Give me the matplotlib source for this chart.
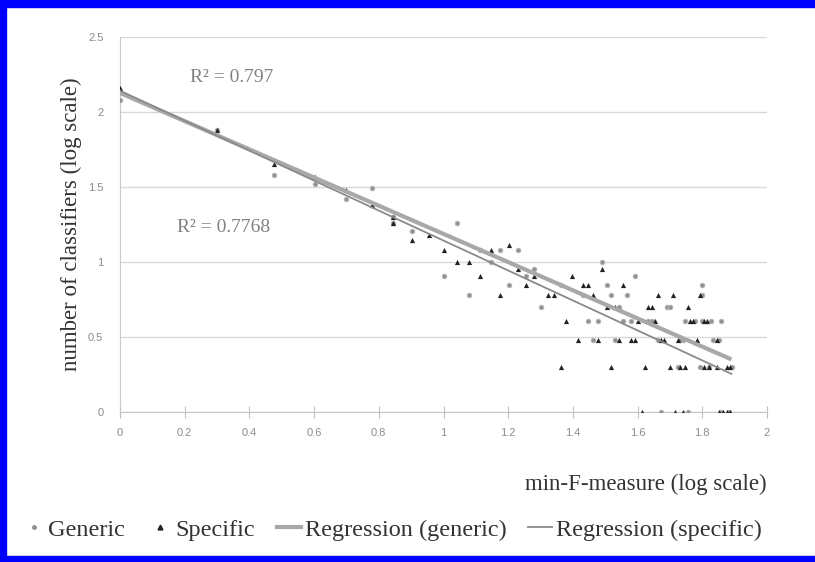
import matplotlib
matplotlib.use("Agg")
import matplotlib.pyplot as plt
import numpy as np
from matplotlib.legend_handler import HandlerLine2D
from matplotlib.lines import Line2D
from matplotlib.patches import Rectangle


# log10 values
generic_x = [0.000, 0.301, 0.477, 0.602, 0.699, 0.778, 0.845, 0.845, 0.903, 1.000,
             1.041, 1.079, 1.114, 1.146, 1.176, 1.204, 1.230, 1.255, 1.279, 1.301,
             1.362, 1.431, 1.447, 1.477, 1.462, 1.491, 1.505, 1.519, 1.544, 1.531,
             1.568, 1.591, 1.556, 1.580, 1.633, 1.643, 1.672, 1.690, 1.699, 1.663,
             1.740, 1.724, 1.756, 1.748, 1.778, 1.799, 1.799, 1.792, 1.799, 1.826,
             1.833, 1.851, 1.857, 1.892, 1.857, 1.881, 1.732, 1.820]
generic_y = [2.079, 1.875, 1.580, 1.519, 1.415, 1.491, 1.301, 1.255, 1.204, 0.903,
             1.255, 0.778, 1.079, 1.000, 1.079, 0.845, 1.079, 0.903, 0.954, 0.699,
             0.845, 0.778, 0.602, 0.602, 0.477, 1.000, 0.845, 0.778, 0.699, 0.477,
             0.778, 0.903, 0.602, 0.602, 0.602, 0.602, 0.000, 0.699, 0.699, 0.477,
             0.477, 0.301, 0.000, 0.602, 0.602, 0.778, 0.845, 0.301, 0.602, 0.602,
             0.477, 0.477, 0.602, 0.301, 0.000, 0.000, 0.477, 0.301]

specific_x = [0.000, 0.301, 0.477, 0.602, 0.699, 0.778, 0.845, 0.845, 0.903, 0.954,
              1.000, 1.041, 1.079, 1.114, 1.146, 1.176, 1.204, 1.230, 1.255, 1.279,
              1.322, 1.342, 1.362, 1.380, 1.398, 1.415, 1.431, 1.447, 1.462, 1.477,
              1.491, 1.505, 1.519, 1.531, 1.544, 1.556, 1.580, 1.591, 1.602, 1.613,
              1.623, 1.633, 1.643, 1.653, 1.663, 1.672, 1.681, 1.699, 1.708, 1.716,
              1.724, 1.732, 1.740, 1.748, 1.756, 1.763, 1.771, 1.785, 1.792, 1.806,
              1.813, 1.806, 1.820, 1.845, 1.845, 1.851, 1.863, 1.875, 1.875, 1.886,
              1.886]
specific_y = [2.158, 1.881, 1.653, 1.568, 1.477, 1.380, 1.301, 1.255, 1.146, 1.176,
              1.079, 1.000, 1.000, 0.903, 1.079, 0.778, 1.114, 0.954, 0.845, 0.903,
              0.778, 0.778, 0.301, 0.602, 0.903, 0.477, 0.845, 0.845, 0.778, 0.477,
              0.954, 0.699, 0.301, 0.699, 0.477, 0.845, 0.477, 0.477, 0.602, 0.000,
              0.301, 0.699, 0.699, 0.602, 0.778, 0.477, 0.477, 0.301, 0.778, 0.000,
              0.477, 0.301, 0.000, 0.301, 0.699, 0.602, 0.602, 0.477, 0.778, 0.602,
              0.602, 0.301, 0.301, 0.477, 0.301, 0.000, 0.000, 0.000, 0.301, 0.301,
              0.000]

# regression line end points
reg_x = [0.0, 1.89]
reg_generic = [2.125, 0.349]
reg_specific = [2.140, 0.252]
r2_generic = 0.797
r2_specific = 0.7768

x_ticks = [0, 0.2, 0.4, 0.6, 0.8, 1, 1.2, 1.4, 1.6, 1.8, 2]
x_ticklabels = ["0", "0.2", "0.4", "0.6", "0.8", "1", "1.2", "1.4", "1.6", "1.8", "2"]
y_ticks = [0, 0.5, 1, 1.5, 2, 2.5]
y_ticklabels = ["0", "0.5", "1", "1.5", "2", "2.5"]

SERIF = "Liberation Serif"
TICK_FONT = "Liberation Sans"
GRID = "#d9d9d9"
TEXT_GRAY = "#808080"
LABEL_SIZE = 16.5
LEGEND_SIZE = 17.5


class MarkerNearText(HandlerLine2D):
    # Excel puts the legend marker right before the text, not centred in the handle.
    # With one point matplotlib marks the middle of xdata, so centre xdata there.
    def get_xdata(self, legend, xdescent, ydescent, width, height, fontsize):
        m = width - xdescent - 0.45 * fontsize
        return np.array([m - 1.0, m + 1.0]), np.array([m])


fig = plt.figure(figsize=(8.15, 5.62), dpi=100)
ax = fig.add_axes([120 / 815, 1 - 411.7 / 562, 647 / 815, 375 / 562])

ax.scatter(generic_x, generic_y, s=10, marker="o", color="#8f8f8f",
           edgecolors="#b5b5b5", linewidths=0.8, zorder=3)
ax.scatter(specific_x, specific_y, s=14, marker="^", color="#222222",
           linewidths=0, zorder=4)
ax.plot(reg_x, reg_generic, color="#a8a8a8", lw=3.0, solid_capstyle="butt", zorder=5)
ax.plot(reg_x, reg_specific, color="#8a8a8a", lw=1.3, zorder=6)

ax.text(0.216, 2.225, f"R\u00b2 = {r2_generic}", family=SERIF, fontsize=14,
        color=TEXT_GRAY, va="center", ha="left")
ax.text(0.176, 1.23, f"R\u00b2 = {r2_specific}", family=SERIF, fontsize=14,
        color=TEXT_GRAY, va="center", ha="left")

ax.set_xlim(0, 2)
ax.set_ylim(0, 2.5)
ax.set_xticks(x_ticks)
ax.set_xticklabels(x_ticklabels, family=TICK_FONT, fontsize=8, color="#8c8c8c")
ax.set_yticks(y_ticks)
ax.set_yticklabels(y_ticklabels, family=TICK_FONT, fontsize=8, color="#8c8c8c")
ax.tick_params(axis="x", direction="inout", length=8, width=0.8, color="#bfbfbf", pad=8)
ax.tick_params(axis="y", length=0, pad=12)

ax.grid(axis="y", color=GRID, lw=1.0)
ax.set_axisbelow(True)
for side in ["top", "right"]:
    ax.spines[side].set_visible(False)
ax.spines["left"].set_color("#c8c8c8")
ax.spines["bottom"].set_color("#c8c8c8")

ax.set_xlabel("min-F-measure (log scale)", family=SERIF, fontsize=LABEL_SIZE,
              color="#333333", ha="right")
ax.xaxis.set_label_coords(1.0, -0.165)
ax.set_ylabel("number of classifiers (log scale)", family=SERIF, fontsize=LABEL_SIZE,
              color="#333333")
ax.yaxis.set_label_coords(-0.058, 0.5)

h_generic = Line2D([], [], ls="", marker="o", ms=2.5, color="#8f8f8f")
h_specific = Line2D([], [], ls="", marker="^", ms=3.5, color="#222222")
handles = [
    h_generic,
    h_specific,
    Line2D([], [], color="#a8a8a8", lw=3.0),
    Line2D([], [], color="#8a8a8a", lw=1.3),
]
labels = ["Generic", "Specific", "Regression (generic)", "Regression (specific)"]
leg = fig.legend(handles, labels, loc="center", bbox_to_anchor=(0.48, 0.057), ncol=4,
                 frameon=False, handlelength=1.0, handletextpad=0.15, columnspacing=0.9,
                 prop={"family": SERIF, "size": LEGEND_SIZE},
                 handler_map={h_generic: MarkerNearText(), h_specific: MarkerNearText()})
for t in leg.get_texts():
    t.set_color("#333333")

# blue frame around the picture (right edge is cut off in the original)
blue = "#0000ff"
fig.patches.append(Rectangle((0, 0), 6 / 815, 1, transform=fig.transFigure, color=blue))
fig.patches.append(Rectangle((0, 1 - 7 / 562), 1, 7 / 562, transform=fig.transFigure, color=blue))
fig.patches.append(Rectangle((0, 0), 1, 6 / 562, transform=fig.transFigure, color=blue))

fig.savefig("out.png", dpi=100)
